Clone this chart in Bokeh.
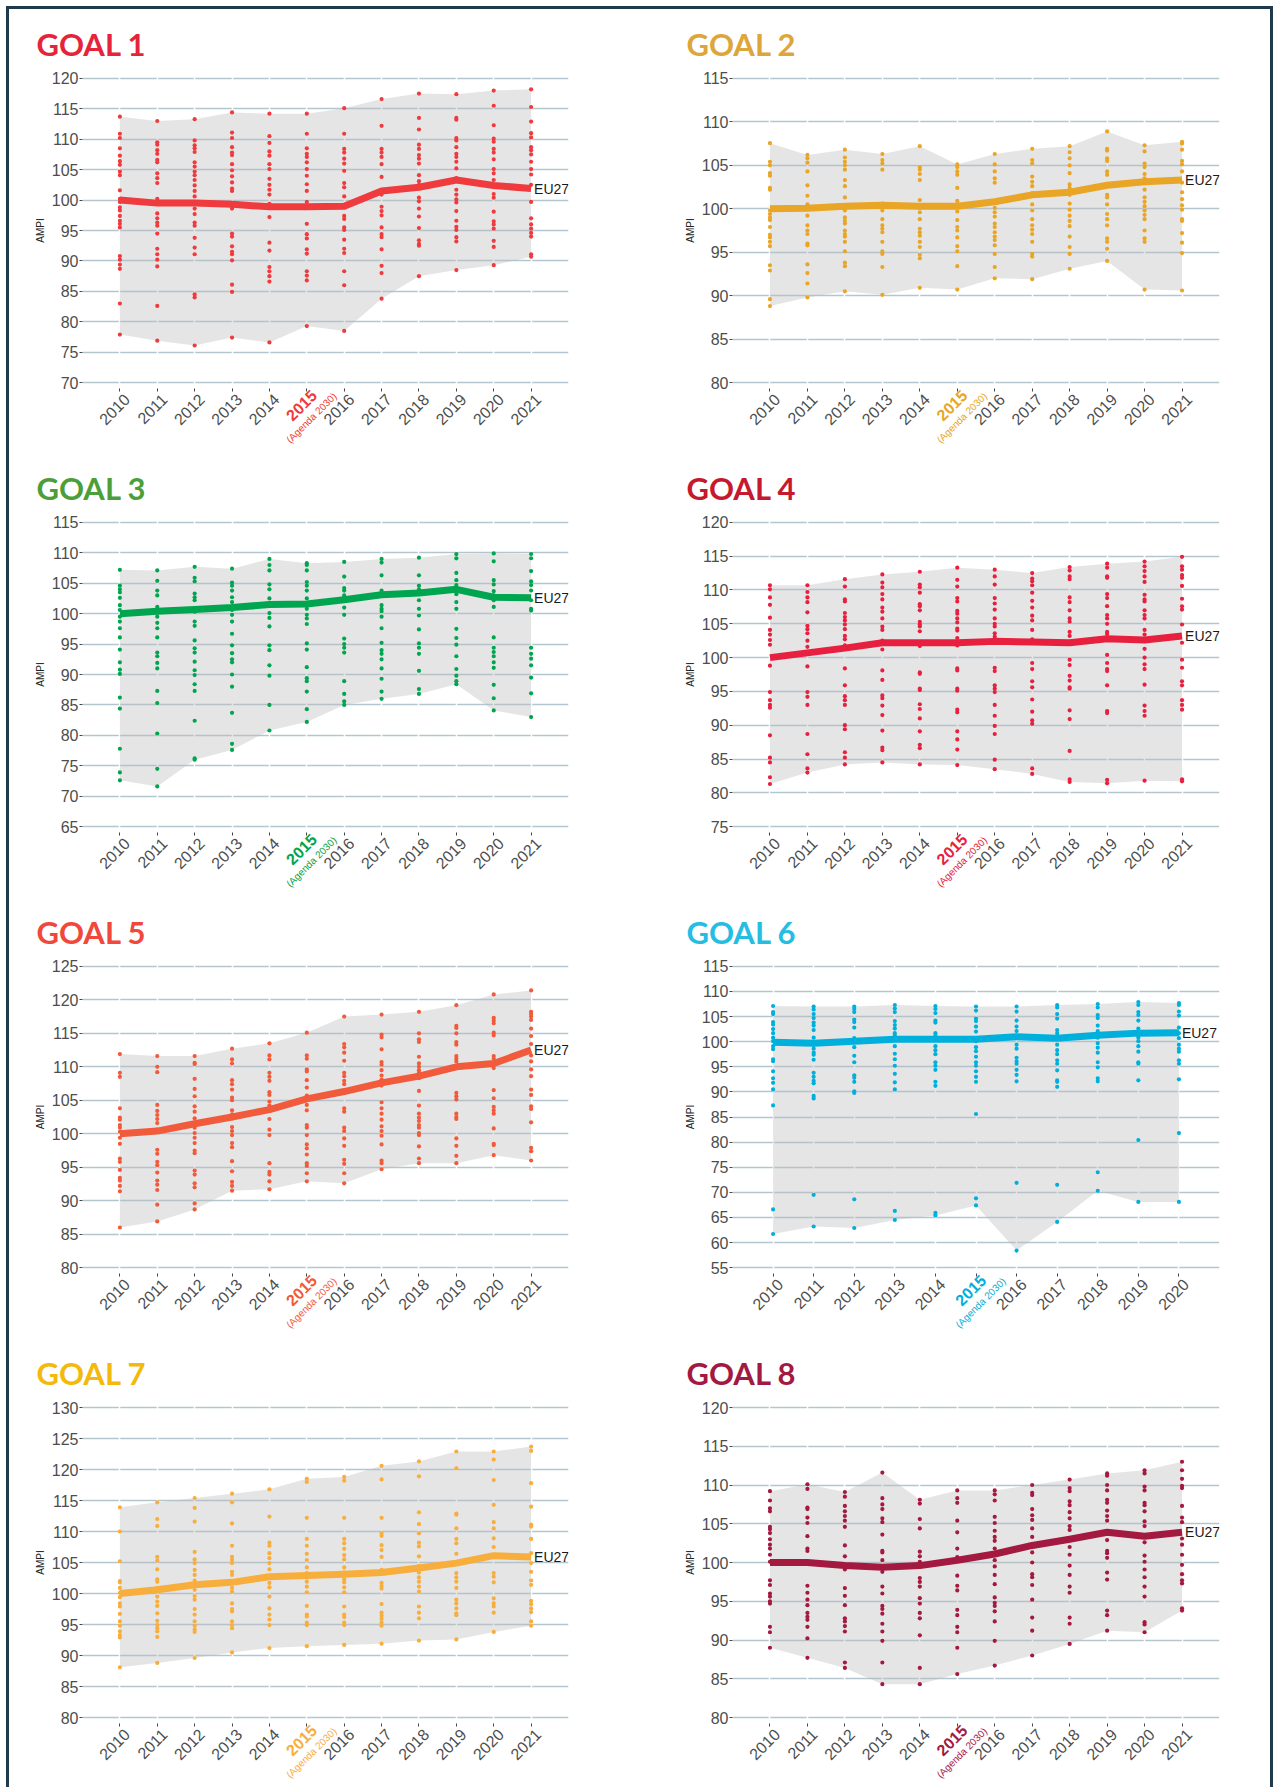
import math
from bokeh.plotting import figure
from bokeh.models import (Range1d, Label, FixedTicker, ColumnDataSource, LinearAxis, Spacer,
                          NumeralTickFormatter)
from bokeh.layouts import row, column
from bokeh.embed import file_html
from bokeh.resources import INLINE

# ---------------- data ----------------
YEARS = [2010, 2011, 2012, 2013, 2014, 2015, 2016, 2017, 2018, 2019, 2020, 2021]
YEARS_G6 = [2010, 2011, 2012, 2013, 2014, 2015, 2016, 2017, 2018, 2019, 2020]

G1_EU27 = [100.0, 99.5, 99.5, 99.3, 98.9, 98.9, 99.0, 101.5, 102.1, 103.3, 102.4, 101.9]
G1_DOTS = [
    [113.7, 110.9, 110.2, 108.5, 107.3, 106.4, 105.8, 104.7, 104.1, 101.6, 100.2, 99.7, 98.8, 98.3, 97.4, 96.6, 96.1, 95.5, 90.8, 90.2, 89.4, 88.7, 83.0, 77.9],
    [113.0, 109.5, 109.1, 108.2, 107.6, 106.6, 106.2, 104.4, 103.6, 102.8, 100.2, 97.8, 97.0, 96.3, 95.8, 94.5, 92.0, 91.1, 90.2, 89.1, 82.6, 76.9],
    [113.3, 109.8, 109.0, 108.5, 107.9, 106.2, 105.5, 104.7, 104.1, 103.3, 102.4, 101.5, 100.6, 98.6, 97.7, 96.3, 95.8, 93.8, 92.2, 91.1, 84.5, 84.0, 76.1],
    [114.4, 111.1, 110.2, 108.7, 107.8, 107.4, 105.9, 104.9, 103.9, 102.9, 101.9, 101.5, 98.6, 94.5, 94.0, 92.4, 91.5, 91.1, 90.1, 86.1, 84.9, 77.4],
    [114.2, 110.5, 109.4, 108.0, 107.3, 105.9, 105.1, 103.5, 102.5, 101.7, 100.9, 99.4, 98.7, 97.2, 93.0, 91.7, 89.0, 88.3, 87.5, 86.6, 76.6],
    [114.2, 110.9, 108.5, 107.6, 107.1, 106.2, 105.1, 104.0, 102.6, 101.5, 99.7, 96.1, 94.4, 93.7, 91.9, 91.2, 88.3, 87.6, 86.8, 79.3],
    [115.1, 110.9, 108.4, 107.8, 106.8, 106.0, 104.8, 102.8, 102.1, 100.6, 97.4, 96.9, 95.5, 95.1, 93.5, 92.0, 91.3, 88.3, 86.0, 78.5],
    [116.6, 112.2, 108.4, 107.8, 107.1, 105.9, 103.8, 100.9, 98.9, 98.2, 97.5, 95.5, 94.4, 93.9, 91.9, 89.2, 88.0, 83.8],
    [117.5, 113.5, 111.6, 109.1, 108.4, 107.4, 106.8, 106.0, 104.1, 103.1, 102.5, 100.4, 99.8, 98.6, 97.3, 95.4, 93.4, 92.8, 92.5, 87.5],
    [117.4, 113.5, 113.2, 110.2, 109.8, 108.7, 107.6, 107.1, 106.3, 105.2, 103.6, 101.7, 100.9, 100.1, 99.6, 98.2, 96.6, 95.6, 95.1, 93.9, 93.2, 88.5],
    [118.0, 115.5, 112.3, 110.1, 109.6, 108.4, 107.8, 106.7, 105.1, 104.4, 103.3, 101.0, 100.4, 98.1, 96.5, 96.0, 95.3, 93.3, 92.3, 89.3],
    [118.2, 115.3, 112.9, 111.0, 110.3, 108.7, 108.2, 107.5, 106.3, 105.1, 104.2, 102.5, 99.7, 97.0, 96.0, 95.3, 94.6, 94.0, 91.1, 90.7],
]

G2_EU27 = [100.0, 100.05, 100.3, 100.4, 100.3, 100.3, 100.8, 101.6, 101.9, 102.7, 103.1, 103.3]
G2_DOTS = [
    [107.55, 105.4, 105.0, 104.1, 103.8, 102.4, 102.2, 99.8, 99.4, 99.0, 98.7, 97.9, 97.0, 96.7, 96.2, 95.7, 93.5, 92.9, 89.6, 88.8],
    [106.2, 105.8, 105.3, 104.3, 102.7, 101.5, 100.5, 99.2, 98.1, 97.5, 97.1, 96.0, 95.8, 93.6, 92.6, 91.4, 89.8],
    [106.8, 105.9, 105.4, 105.0, 104.5, 103.3, 102.6, 101.3, 99.8, 99.0, 98.6, 98.3, 97.5, 97.1, 96.8, 96.2, 95.1, 93.8, 93.4, 90.5],
    [106.3, 105.6, 105.2, 104.5, 100.6, 100.3, 99.8, 98.8, 98.1, 97.7, 97.3, 96.2, 95.1, 94.8, 93.3, 90.1],
    [107.2, 104.8, 104.5, 104.0, 103.3, 101.0, 100.1, 99.6, 98.8, 97.7, 97.3, 96.9, 96.2, 95.6, 94.7, 94.3, 90.9],
    [105.1, 104.8, 104.3, 103.9, 102.4, 100.9, 100.5, 99.7, 98.7, 97.9, 97.5, 96.7, 95.7, 95.1, 93.4, 90.7],
    [106.3, 105.1, 104.3, 103.5, 103.0, 100.1, 99.6, 99.1, 98.3, 97.9, 97.3, 96.8, 96.4, 95.8, 94.8, 93.3, 92.0],
    [106.9, 105.6, 105.2, 103.7, 103.1, 102.6, 101.8, 100.5, 99.8, 98.8, 98.1, 97.6, 97.1, 96.2, 94.8, 94.5, 91.9],
    [107.2, 106.5, 105.8, 105.0, 104.1, 102.8, 102.4, 101.6, 100.6, 99.9, 99.2, 98.6, 98.0, 96.8, 95.6, 94.8, 93.1],
    [108.9, 106.9, 106.7, 105.8, 105.5, 104.3, 103.9, 102.8, 101.6, 101.3, 100.5, 99.4, 98.8, 98.1, 96.6, 96.2, 95.4, 94.0],
    [107.3, 106.6, 105.2, 104.8, 104.0, 103.5, 102.2, 101.3, 100.8, 100.3, 99.8, 99.3, 98.8, 97.5, 96.6, 96.2, 90.7],
    [107.7, 107.5, 106.8, 105.5, 105.1, 104.3, 103.0, 101.9, 101.1, 100.4, 99.9, 98.8, 98.6, 97.2, 96.1, 94.9, 90.6],
]

G3_EU27 = [100.0, 100.4, 100.7, 101.0, 101.5, 101.6, 102.3, 103.1, 103.4, 104.0, 102.7, 102.6]
G3_DOTS = [
    [107.2, 104.6, 104.0, 103.5, 102.6, 101.4, 100.6, 99.5, 98.7, 97.6, 96.1, 94.1, 92.0, 90.8, 90.1, 86.2, 84.4, 77.8, 73.9, 72.6],
    [107.1, 105.4, 103.8, 103.0, 101.1, 99.5, 98.5, 97.6, 96.1, 93.6, 93.0, 91.9, 91.0, 87.3, 85.3, 80.3, 74.5, 71.6],
    [107.7, 105.9, 105.3, 103.3, 102.7, 102.2, 100.3, 98.7, 98.0, 95.6, 94.3, 93.6, 92.1, 90.7, 89.9, 88.4, 87.3, 82.4, 76.2, 76.0],
    [107.4, 105.1, 104.6, 103.8, 102.7, 101.9, 100.6, 99.8, 98.7, 96.7, 94.8, 93.5, 92.5, 92.0, 90.0, 88.0, 83.7, 78.6, 77.6],
    [109.0, 108.0, 107.1, 104.8, 104.0, 102.5, 100.1, 99.3, 97.9, 94.8, 94.0, 91.5, 89.8, 85.0, 80.8],
    [108.3, 108.0, 107.1, 105.2, 104.6, 103.8, 102.5, 100.8, 99.8, 99.2, 98.3, 95.1, 94.1, 91.2, 89.4, 88.9, 87.2, 84.3, 82.2],
    [108.5, 106.1, 104.2, 103.8, 103.0, 101.0, 99.8, 95.9, 95.0, 94.4, 93.6, 88.9, 86.8, 85.6, 85.0],
    [109.0, 108.4, 106.3, 103.8, 101.4, 100.8, 100.4, 99.5, 97.6, 95.2, 94.0, 93.4, 92.5, 91.0, 89.3, 87.2, 86.0],
    [109.2, 106.3, 104.6, 104.0, 102.2, 100.8, 99.7, 97.4, 95.1, 94.4, 93.4, 90.6, 87.6, 86.8],
    [109.8, 109.1, 106.7, 105.5, 104.7, 103.2, 101.9, 100.8, 97.5, 96.0, 94.9, 93.0, 90.9, 89.8, 88.9, 88.4],
    [109.9, 108.6, 105.5, 104.8, 103.7, 103.0, 102.2, 101.1, 96.1, 94.4, 93.7, 93.0, 92.0, 91.1, 88.3, 86.1, 84.1],
    [109.8, 109.1, 107.0, 105.3, 104.7, 103.8, 102.2, 100.8, 100.5, 94.4, 93.4, 92.6, 91.5, 89.5, 86.9, 83.0],
]

G4_EU27 = [100.0, 100.7, 101.4, 102.2, 102.2, 102.2, 102.4, 102.3, 102.2, 102.8, 102.6, 103.2]
G4_DOTS = [
    [110.7, 110.1, 108.9, 107.8, 105.9, 104.1, 103.4, 102.6, 101.9, 98.8, 94.9, 93.7, 93.0, 92.6, 88.5, 85.2, 84.5, 82.3, 81.3],
    [110.7, 109.7, 108.9, 108.2, 106.7, 104.7, 104.2, 103.6, 102.5, 101.6, 98.7, 94.9, 94.2, 93.0, 88.7, 85.7, 83.6, 83.0],
    [111.6, 110.5, 108.6, 108.3, 106.6, 106.0, 105.5, 104.9, 104.2, 103.2, 102.7, 101.8, 98.4, 95.9, 94.3, 93.7, 93.0, 90.0, 89.4, 86.0, 85.2, 84.2],
    [112.3, 111.1, 110.4, 109.4, 108.6, 107.4, 106.8, 105.8, 104.6, 104.1, 102.5, 101.2, 98.1, 96.7, 94.4, 94.0, 92.9, 91.5, 89.2, 86.7, 86.3, 84.5],
    [112.7, 110.8, 110.4, 109.6, 107.9, 107.6, 107.0, 105.3, 104.9, 104.6, 103.9, 101.7, 97.8, 97.6, 95.4, 95.2, 93.1, 92.4, 91.0, 89.1, 87.1, 86.6, 84.2],
    [113.3, 111.5, 110.5, 108.8, 108.3, 106.9, 106.5, 105.8, 105.2, 104.3, 104.0, 102.9, 101.8, 98.4, 98.1, 95.4, 95.1, 92.3, 91.9, 89.1, 87.9, 86.4, 84.1],
    [113.0, 112.0, 110.8, 108.8, 108.0, 107.1, 105.8, 105.0, 104.6, 103.6, 103.1, 98.5, 98.0, 95.9, 95.4, 94.9, 93.0, 91.4, 89.9, 88.7, 84.9, 83.5],
    [112.5, 111.7, 111.3, 110.7, 109.6, 108.4, 107.4, 106.2, 105.5, 104.1, 102.7, 99.2, 98.3, 96.5, 95.6, 93.8, 92.0, 90.7, 90.2, 83.6, 82.8],
    [113.4, 112.9, 112.0, 111.6, 108.9, 108.2, 107.0, 105.8, 105.3, 103.8, 103.2, 99.7, 98.9, 97.3, 96.6, 95.6, 95.4, 92.2, 90.9, 86.2, 82.0, 81.6],
    [113.9, 113.3, 112.0, 111.8, 109.4, 108.8, 107.6, 106.3, 105.8, 105.0, 103.8, 103.5, 100.4, 99.2, 98.3, 98.0, 95.9, 92.1, 91.8, 81.9, 81.4],
    [114.2, 113.5, 112.8, 112.0, 111.2, 109.3, 108.6, 108.3, 107.0, 106.3, 105.8, 104.1, 103.4, 101.3, 100.0, 99.0, 98.3, 96.0, 92.9, 92.1, 91.4, 81.8],
    [114.9, 113.5, 113.0, 112.2, 111.8, 110.6, 108.7, 107.6, 107.1, 104.9, 102.2, 99.7, 98.5, 96.5, 95.9, 93.7, 93.0, 92.3, 82.0, 81.7],
]

G5_EU27 = [100.0, 100.4, 101.5, 102.5, 103.6, 105.2, 106.3, 107.6, 108.6, 110.0, 110.5, 112.5]
G5_DOTS = [
    [111.9, 109.1, 108.5, 103.8, 102.4, 102.1, 101.3, 100.9, 100.3, 99.4, 98.5, 96.3, 95.8, 94.6, 93.4, 93.0, 92.2, 91.4, 86.0],
    [111.6, 110.0, 109.2, 104.3, 103.4, 102.8, 102.2, 101.6, 100.6, 97.6, 97.0, 95.8, 95.3, 94.2, 93.0, 92.4, 91.6, 89.4, 86.9],
    [111.6, 110.6, 110.4, 108.2, 106.7, 105.6, 104.1, 103.3, 102.3, 100.9, 100.1, 99.4, 98.6, 97.5, 97.1, 94.5, 93.9, 92.6, 92.0, 89.6, 88.7],
    [112.7, 111.1, 110.5, 108.0, 107.4, 106.6, 105.4, 105.0, 103.5, 102.9, 102.3, 101.0, 100.4, 99.8, 98.6, 98.0, 95.9, 94.4, 92.8, 92.2, 91.5],
    [113.5, 111.7, 111.1, 109.1, 108.5, 107.9, 106.2, 105.8, 104.8, 104.2, 103.4, 102.2, 100.6, 99.8, 95.6, 94.3, 93.9, 92.9, 91.7],
    [115.1, 111.7, 111.2, 109.6, 109.3, 108.0, 106.9, 105.7, 104.3, 103.5, 101.3, 100.9, 99.8, 98.4, 97.8, 96.9, 95.6, 95.2, 94.1, 92.9],
    [117.5, 113.4, 112.9, 112.1, 110.9, 109.1, 108.6, 107.9, 107.4, 103.8, 103.3, 100.9, 100.4, 99.3, 98.2, 96.1, 95.5, 94.1, 92.6],
    [117.8, 114.8, 114.4, 112.6, 110.7, 110.3, 109.5, 108.7, 108.1, 107.2, 104.7, 103.8, 103.0, 102.1, 101.1, 100.4, 99.7, 98.4, 96.0, 95.6, 94.7],
    [118.2, 115.0, 114.1, 113.7, 111.5, 110.5, 110.0, 109.5, 109.1, 108.3, 106.4, 104.2, 103.0, 102.4, 101.9, 101.3, 100.9, 100.1, 99.8, 98.1, 96.3, 95.6],
    [119.2, 116.1, 115.8, 115.0, 113.7, 113.3, 111.6, 111.2, 110.8, 106.1, 105.6, 105.1, 103.0, 102.5, 102.2, 99.3, 98.2, 96.7, 95.6],
    [120.8, 117.3, 116.9, 116.5, 115.1, 114.7, 111.6, 111.2, 109.8, 106.5, 105.3, 104.0, 103.5, 103.0, 100.8, 98.5, 98.3, 96.8],
    [121.4, 118.2, 117.9, 117.5, 117.0, 115.7, 114.6, 113.4, 111.7, 110.8, 109.6, 108.6, 106.6, 105.8, 104.1, 103.7, 101.7, 97.9, 97.4, 96.0],
]

G6_EU27 = [99.9, 99.7, 100.1, 100.5, 100.5, 100.5, 101.0, 100.7, 101.3, 101.7, 101.8]
G6_DOTS = [
    [107.1, 105.9, 105.5, 103.9, 103.4, 102.5, 101.7, 100.8, 100.1, 99.1, 98.5, 96.5, 96.1, 94.1, 92.7, 91.8, 90.5, 87.3, 66.6, 61.7],
    [107.0, 106.4, 105.5, 104.7, 103.8, 103.2, 102.3, 100.8, 99.4, 98.6, 97.8, 97.4, 96.4, 93.8, 93.0, 92.2, 91.7, 89.2, 88.7, 69.5, 63.2],
    [107.0, 106.5, 105.9, 104.4, 103.9, 102.8, 100.7, 100.1, 98.9, 97.2, 95.9, 93.3, 92.8, 92.0, 90.1, 89.8, 68.6, 62.9],
    [107.3, 106.6, 105.9, 104.1, 103.3, 102.6, 101.7, 101.2, 99.1, 97.6, 96.5, 95.2, 93.6, 91.9, 90.5, 66.3, 64.5],
    [107.1, 106.5, 105.7, 104.2, 103.8, 101.7, 101.2, 99.1, 98.3, 97.5, 95.9, 95.2, 94.4, 92.0, 91.2, 65.9, 65.4],
    [107.0, 106.2, 104.6, 104.1, 103.0, 102.0, 100.1, 98.9, 98.1, 97.0, 95.9, 95.2, 94.1, 93.0, 92.0, 85.6, 68.8, 67.4],
    [107.0, 106.0, 104.2, 103.0, 102.1, 99.4, 98.6, 96.8, 96.1, 95.6, 94.4, 93.4, 92.1, 71.9, 58.4],
    [107.3, 106.8, 105.5, 104.6, 102.3, 101.7, 100.7, 99.4, 98.3, 97.5, 96.3, 95.6, 94.3, 92.3, 92.0, 91.0, 71.5, 64.1],
    [107.5, 106.8, 105.3, 104.7, 103.2, 102.1, 100.8, 99.7, 98.8, 97.8, 95.9, 94.9, 92.7, 92.1, 74.0, 70.3],
    [107.9, 107.3, 105.9, 105.3, 104.2, 102.6, 100.8, 100.1, 99.1, 98.0, 95.9, 95.6, 92.3, 80.4, 68.1],
    [107.7, 107.3, 106.0, 105.2, 102.8, 101.7, 100.7, 99.4, 98.6, 98.0, 96.3, 95.6, 92.5, 81.8, 68.1],
]

G7_EU27 = [100.0, 100.6, 101.4, 101.8, 102.7, 102.9, 103.1, 103.4, 104.1, 104.9, 106.1, 105.9]
G7_DOTS = [
    [113.9, 110.0, 105.2, 102.0, 101.8, 100.9, 100.1, 99.4, 98.4, 97.9, 96.7, 95.5, 94.8, 93.9, 93.3, 92.9, 88.1],
    [114.7, 112.0, 110.9, 105.9, 105.3, 103.9, 102.3, 101.9, 100.9, 99.5, 98.7, 98.0, 96.8, 95.6, 94.9, 94.4, 93.9, 93.0, 88.8],
    [115.4, 113.8, 111.6, 106.7, 105.5, 104.9, 103.8, 103.0, 102.1, 100.6, 99.6, 99.0, 97.5, 96.6, 95.5, 94.8, 94.2, 93.8, 89.6],
    [116.1, 114.7, 111.3, 107.7, 105.9, 105.4, 104.9, 103.5, 103.0, 100.9, 100.3, 98.4, 97.5, 97.1, 95.5, 94.9, 94.4, 90.5],
    [116.8, 112.4, 108.2, 107.7, 106.5, 105.7, 104.9, 103.9, 102.8, 101.7, 101.0, 99.5, 97.6, 96.6, 95.8, 94.9, 91.2],
    [118.5, 118.0, 112.2, 108.8, 107.7, 106.4, 105.4, 104.2, 103.3, 102.6, 101.9, 101.1, 100.2, 98.0, 96.6, 96.3, 95.3, 94.9, 91.5],
    [118.8, 118.2, 112.2, 108.8, 108.1, 107.2, 106.2, 105.5, 104.2, 103.4, 102.3, 101.8, 101.0, 100.2, 97.9, 96.6, 96.2, 95.3, 94.9, 91.7],
    [120.6, 118.4, 112.2, 109.7, 109.3, 107.8, 107.0, 105.9, 103.8, 103.3, 101.7, 101.2, 100.8, 98.3, 96.9, 96.4, 95.9, 95.3, 94.8, 91.9],
    [121.3, 118.9, 113.1, 111.2, 109.7, 108.2, 107.6, 106.0, 104.4, 103.4, 102.6, 101.9, 101.1, 100.3, 97.9, 96.9, 96.0, 92.4],
    [122.9, 120.2, 112.9, 112.7, 110.5, 108.8, 108.1, 106.4, 104.9, 103.3, 102.6, 101.9, 100.9, 99.0, 98.4, 97.6, 96.8, 96.5, 92.6],
    [122.9, 121.6, 118.3, 114.3, 111.5, 110.5, 108.9, 107.5, 105.9, 103.3, 102.7, 101.8, 99.2, 98.4, 97.9, 96.9, 93.8],
    [123.7, 123.0, 117.8, 114.0, 111.1, 110.8, 108.8, 106.5, 104.9, 103.5, 102.1, 101.4, 98.8, 98.3, 97.6, 97.0, 95.5, 94.8],
]

G8_EU27 = [100.0, 100.0, 99.6, 99.4, 99.6, 100.3, 101.1, 102.2, 103.0, 103.9, 103.4, 103.9]
G8_DOTS = [
    [109.2, 108.0, 107.0, 106.6, 104.6, 104.3, 103.8, 103.0, 102.3, 101.8, 101.0, 100.1, 97.7, 97.1, 96.0, 95.6, 95.0, 94.7, 91.7, 91.0, 89.0],
    [110.1, 109.5, 107.1, 106.9, 105.8, 105.1, 103.4, 101.8, 101.5, 97.0, 96.1, 95.2, 94.5, 93.5, 93.0, 92.6, 91.7, 90.2, 87.7],
    [109.1, 108.5, 107.3, 106.6, 106.0, 105.4, 104.6, 102.2, 100.8, 99.1, 96.7, 95.7, 94.5, 92.8, 92.4, 91.8, 91.1, 87.1, 86.4],
    [111.6, 108.3, 107.5, 106.9, 105.7, 105.2, 103.6, 101.5, 101.3, 100.3, 98.8, 96.9, 96.0, 94.4, 94.0, 93.4, 92.1, 91.1, 89.9, 87.1, 84.3],
    [108.1, 107.6, 105.6, 104.4, 101.4, 100.8, 100.1, 98.0, 97.5, 96.9, 95.4, 94.7, 93.5, 92.8, 90.6, 86.4, 84.3],
    [109.3, 108.3, 107.7, 105.4, 103.9, 101.8, 100.7, 98.3, 97.0, 96.4, 93.9, 93.2, 91.7, 91.0, 89.0, 85.6],
    [109.3, 108.8, 108.0, 105.9, 105.1, 104.1, 103.3, 102.8, 101.8, 100.3, 99.5, 98.4, 97.2, 95.5, 94.8, 94.4, 93.7, 92.4, 89.9, 86.7],
    [110.0, 109.0, 108.7, 106.9, 106.1, 105.5, 104.4, 103.3, 102.3, 101.3, 100.0, 98.5, 98.1, 97.1, 95.2, 92.9, 91.2, 88.0],
    [110.7, 109.6, 109.2, 107.9, 107.4, 106.5, 105.7, 104.7, 104.2, 102.0, 101.0, 99.6, 98.4, 96.9, 96.1, 92.9, 92.1, 89.5],
    [111.5, 111.2, 110.0, 109.3, 108.1, 107.7, 106.7, 106.0, 105.4, 103.8, 102.9, 101.5, 101.2, 100.6, 98.7, 97.8, 93.8, 93.2, 91.2],
    [111.9, 111.5, 109.8, 109.3, 107.7, 107.4, 106.6, 105.3, 104.7, 102.6, 100.9, 100.1, 99.1, 98.1, 96.9, 95.6, 92.3, 92.0, 91.0],
    [113.0, 111.9, 110.8, 109.9, 109.6, 107.3, 105.8, 105.2, 103.1, 102.3, 101.0, 99.7, 98.5, 97.7, 97.3, 94.1, 93.8],
]

TITLES = ["GOAL 1", "GOAL 2", "GOAL 3", "GOAL 4", "GOAL 5", "GOAL 6", "GOAL 7", "GOAL 8"]
TITLE_COLORS = ["#e5243b", "#dda63a", "#4c9f38", "#c5192d", "#f0483a", "#26bde2", "#f3b90c", "#a21942"]
DATA_COLORS = ["#ef3a3e", "#e9a526", "#00a54f", "#e8203f", "#f15a3b", "#00b0dc", "#f8ae3d", "#a3193f"]
Y_LIMITS = [(70, 120), (80, 115), (65, 115), (75, 120), (80, 125), (55, 115), (80, 130), (80, 120)]
HIGHLIGHT_YEAR = 2015
HIGHLIGHT_NOTE = "(Agenda 2030)"

# ---------------- layout constants ----------------
ROW_HEIGHTS = [443, 444, 441, 450]
FRAME_TOPS = [63, 64, 64, 64]
FRAME_H = 322
GRID_SPAN = 310          # px between lowest and highest y tick
COL_W = [631, 630]
COL_LEFT = [73, 92]
COL_FW = [486, 487]

TICK_FONT = "Liberation Sans"
TICK_COLOR = "#4d4d4d"
BORDER = "3px solid #1d3b4b"

LABEL_EXTENT = 38        # rotated extent of a 16px year label
LABEL_SHIFT_PX = 7       # x-shift of rotated year labels (right/top alignment)
NOTE_SHIFT_PX = 21       # extra x-shift of the "(Agenda 2030)" line
TICK_LEN = 3


def make_panel(i, years, eu, dots, rix, cix):
    ylo, yhi = Y_LIMITS[i]
    color = DATA_COLORS[i]
    H = ROW_HEIGHTS[rix]
    ftop = FRAME_TOPS[rix]
    W = COL_W[cix]
    left = COL_LEFT[cix]
    fw = COL_FW[cix]
    k = GRID_SPAN / (yhi - ylo)
    pad = ((FRAME_H - GRID_SPAN) / 2) / k
    x0, x1 = years[0] - 1, years[-1] + 1
    kx = fw / (x1 - x0)
    dx = LABEL_SHIFT_PX / kx

    p = figure(width=W, height=H, x_range=Range1d(x0, x1),
               y_range=Range1d(ylo - pad, yhi + pad),
               output_backend="svg", toolbar_location=None,
               min_border_left=left, min_border_right=W - left - fw,
               min_border_top=ftop, min_border_bottom=H - ftop - FRAME_H)
    p.outline_line_color = None
    p.background_fill_color = "white"
    p.border_fill_color = "white"

    # title
    p.title.text = TITLES[i]
    p.title.align = "left"
    p.title.offset = -46
    p.title.text_font = "Lato"
    p.title.text_font_style = "bold"
    p.title.text_font_size = "31px"
    p.title.text_color = TITLE_COLORS[i]
    p.title.standoff = 20

    # grids
    p.ygrid.grid_line_color = "#b3c5cf"
    p.ygrid.grid_line_width = 1.5
    p.ygrid.level = "image"
    p.xgrid.ticker = FixedTicker(ticks=years)
    p.xgrid.grid_line_color = "white"
    p.xgrid.grid_line_width = 1.5

    # y axis
    ya = p.yaxis[0]
    ya.ticker = FixedTicker(ticks=list(range(ylo, yhi + 1, 5)))
    ya.axis_line_color = None
    ya.major_tick_in = 0
    ya.major_tick_out = TICK_LEN
    ya.major_tick_line_color = "#444444"
    ya.minor_tick_line_color = None
    ya.major_label_text_font = TICK_FONT
    ya.major_label_text_font_size = "16px"
    ya.major_label_text_color = TICK_COLOR
    ya.major_label_standoff = 1
    ya.axis_label = "AMPI"
    ya.axis_label_text_font = TICK_FONT
    ya.axis_label_text_font_size = "10px"
    ya.axis_label_text_font_style = "normal"
    ya.axis_label_text_color = "#222222"
    ya.axis_label_standoff = 3

    # x axis 0: tick marks at the years (no labels)
    xa = p.xaxis[0]
    xa.ticker = FixedTicker(ticks=years)
    xa.axis_line_color = None
    xa.major_tick_in = 0
    xa.major_tick_out = TICK_LEN
    xa.major_tick_line_color = "#444444"
    xa.minor_tick_line_color = None
    xa.major_label_text_color = None

    def label_axis(ticks, standoff, **kw):
        ax = LinearAxis(ticker=FixedTicker(ticks=ticks),
                        formatter=NumeralTickFormatter(format="0"),
                        axis_line_color=None, major_tick_in=0, major_tick_out=0,
                        minor_tick_line_color=None,
                        major_label_orientation=math.pi / 4,
                        major_label_standoff=standoff,
                        major_label_text_font=TICK_FONT, **kw)
        p.add_layout(ax, "below")
        return ax

    # x axis 1: the ordinary year labels
    label_axis([y + dx for y in years if y != HIGHLIGHT_YEAR], 5,
               major_label_text_font_size="16px", major_label_text_color=TICK_COLOR)
    s2 = -3 - LABEL_EXTENT
    # x axis 2: highlighted year, bold and coloured
    label_axis([HIGHLIGHT_YEAR + dx], s2,
               major_label_text_font_size="16px", major_label_text_font_style="bold",
               major_label_text_color=color)
    # x axis 3: the "(Agenda 2030)" note
    note_tick = HIGHLIGHT_YEAR + dx + NOTE_SHIFT_PX / kx
    label_axis([note_tick], int(round(-1.4 - LABEL_EXTENT)),
               major_label_overrides={note_tick: HIGHLIGHT_NOTE},
               major_label_text_font_size="10px", major_label_text_color=color)

    # band (range of member states)
    mins = [min(v) for v in dots]
    maxs = [max(v) for v in dots]
    p.varea(x=years, y1=mins, y2=maxs, fill_color="#bdbdbd", fill_alpha=0.4)

    # country dots
    xs = [yr for yr, vals in zip(years, dots) for _ in vals]
    ys = [v for vals in dots for v in vals]
    src = ColumnDataSource(data=dict(x=xs, y=ys))
    p.scatter("x", "y", source=src, size=4.2, fill_color=color, line_color=None)

    # EU27 line
    p.line(years, eu, line_width=7, line_color=color, line_join="round")
    p.add_layout(Label(x=years[-1], y=eu[-1], text="EU27", x_offset=3,
                       text_baseline="middle", text_align="left",
                       text_font=TICK_FONT, text_font_size="14px", text_color="#1a1a1a"))
    return p


SERIES = [
    (YEARS, G1_EU27, G1_DOTS), (YEARS, G2_EU27, G2_DOTS),
    (YEARS, G3_EU27, G3_DOTS), (YEARS, G4_EU27, G4_DOTS),
    (YEARS, G5_EU27, G5_DOTS), (YEARS_G6, G6_EU27, G6_DOTS),
    (YEARS, G7_EU27, G7_DOTS), (YEARS, G8_EU27, G8_DOTS),
]

rows = []
for r in range(4):
    pair = []
    for c in range(2):
        i = r * 2 + c
        yrs, eu, dots = SERIES[i]
        pair.append(make_panel(i, yrs, eu, dots, r, c))
    rows.append(row(*pair))

framed = column(*rows, styles={"border-top": BORDER, "border-left": BORDER, "border-right": BORDER})
page = column(Spacer(height=6), row(Spacer(width=6), framed))

open("out.html", "w").write(file_html(page, INLINE))
